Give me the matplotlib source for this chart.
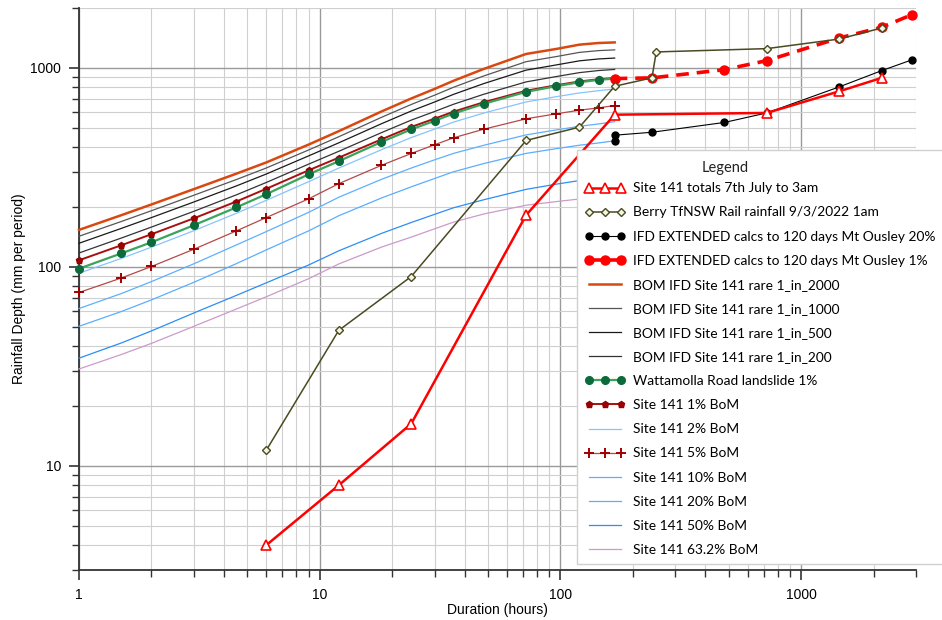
import matplotlib
matplotlib.use("Agg")
import matplotlib.pyplot as plt
from matplotlib.ticker import FixedLocator, FixedFormatter, LogLocator, NullFormatter

# standard BoM durations (hours)
dur = [1, 1.5, 2, 3, 4.5, 6, 9, 12, 18, 24, 30, 36, 48, 72, 96, 120, 144, 168]

# BoM IFD curves, Site 141 (mm)
rare_2000 = [153.5, 182, 206, 246, 294, 335, 412, 481, 603, 702, 784, 862, 988, 1175, 1245, 1309, 1334, 1343]
rare_1000 = [142.6, 169.2, 191.6, 229.2, 274.7, 314.2, 387.1, 451, 563.6, 655, 729.4, 799.7, 911, 1074.7, 1139.9, 1197, 1221.6, 1232]
rare_500 = [131.5, 156.2, 177, 212, 255.1, 293, 361.5, 420.3, 523.4, 607.3, 674, 736.6, 833.9, 974.5, 1034.9, 1085.4, 1109.2, 1120.6]
rare_200 = [117.5, 139.7, 158.6, 190.3, 230.1, 265.7, 328.6, 381, 472.1, 546.6, 603.8, 657, 737.1, 850.6, 904.7, 947, 969.9, 982.4]
wattamolla = [98, 117, 133, 162, 199, 232, 292, 340, 424, 491, 542, 590, 660, 758, 809, 847, 871, 884]
aep_1 = [108, 128.5, 146, 175.5, 213, 247, 306, 354, 437, 505, 556, 603, 672, 768, 818, 855, 877, 890]
aep_2 = [93, 110.4, 125.7, 152.1, 185.9, 216.2, 268.2, 313.9, 387.5, 446.6, 492.7, 534.3, 593.2, 674.4, 716.8, 748.5, 768.3, 783.5]
aep_5 = [74.4, 88, 100.5, 122.7, 151.6, 177, 220, 262, 323.6, 371.5, 411, 445.6, 492, 555, 588, 613, 630, 647]
aep_10 = [61.8, 73.5, 84.4, 103.7, 128.9, 150.5, 188.1, 224, 275.1, 313.9, 345.2, 372.1, 408.4, 460.7, 488, 508.8, 522.9, 537]
aep_20 = [50.3, 59.7, 68.3, 83.7, 103.8, 121.8, 151.8, 180.8, 221.7, 252.6, 278.2, 300.8, 330.6, 371.9, 392.8, 408.9, 419.6, 430.3]
aep_50 = [34.8, 41.5, 47.7, 58.7, 71.9, 83.2, 102.3, 120.5, 147.2, 167.2, 183.7, 198.3, 217.5, 245.3, 260.5, 271.6, 279.1, 286.6]
aep_632 = [30.7, 36.3, 41.3, 50.3, 61.4, 70.8, 87.3, 103.5, 125.6, 141.2, 155.4, 168, 184.5, 204.2, 212.9, 219.5, 223.7, 227.7]

# observed totals
site141_x = [6, 12, 24, 72, 168, 720, 1440, 2160]
site141_y = [4, 8, 16.3, 182, 582, 594, 763, 891]
berry_x = [6, 12, 24, 72, 120, 168, 240, 250, 720, 1440, 2160]
berry_y = [12, 48, 89.5, 432, 504, 809, 891, 1203, 1250, 1397, 1587]

# extended IFD to 120 days
ext20_x = [168, 168, 240, 480, 720, 1440, 2160, 2880]
ext20_y = [428, 459, 475, 532, 594, 803, 969, 1097]
ext1_x = [168, 240, 480, 720, 1440, 2160, 2880]
ext1_y = [884, 891, 980, 1088, 1414, 1600, 1850]

fig = plt.figure(figsize=(9.42, 6.2), dpi=100)
ax = fig.add_axes([79 / 942, 1 - 570 / 620, (916 - 79) / 942, (570 - 8) / 620])

series = [
    (site141_x, site141_y, "Site 141 totals 7th July to 3am",
     dict(color="#ff0000", lw=1.8, marker="^", ms=7, mfc="white", mec="#ff0000", mew=1.2)),
    (berry_x, berry_y, "Berry TfNSW Rail rainfall 9/3/2022 1am",
     dict(color="#4a4a22", lw=1.1, marker="D", ms=4.5, mfc="#f4f4e0", mec="#4a4a22", mew=1)),
    (ext20_x, ext20_y, "IFD EXTENDED calcs to 120 days Mt Ousley 20%",
     dict(color="black", lw=0.8, marker="o", ms=5, mfc="black", mec="black")),
    (ext1_x, ext1_y, "IFD EXTENDED calcs to 120 days Mt Ousley 1%",
     dict(color="#ff0000", lw=2.6, ls=(0, (3.5, 2.2)), marker="o", ms=6.5, mfc="#ff0000", mec="#ff0000")),
    (dur, rare_2000, "BOM IFD Site 141 rare 1_in_2000", dict(color="#d9480f", lw=1.8)),
    (dur, rare_1000, "BOM IFD Site 141 rare 1_in_1000", dict(color="#555555", lw=0.9)),
    (dur, rare_500, "BOM IFD Site 141 rare 1_in_500", dict(color="#1a1a1a", lw=0.9)),
    (dur, rare_200, "BOM IFD Site 141 rare 1_in_200", dict(color="#333333", lw=0.9)),
    (dur, wattamolla, "Wattamolla Road landslide 1%",
     dict(color="#3aa35c", lw=1.6, marker="o", ms=5.5, mfc="#0b6b3a", mec="#0b6b3a")),
    (dur, aep_1, "Site 141 1% BoM",
     dict(color="#a81010", lw=1.4, marker="p", ms=4.5, mfc="#990000", mec="#990000")),
    (dur, aep_2, "Site 141 2% BoM", dict(color="#86c3ff", lw=0.9)),
    (dur, aep_5, "Site 141 5% BoM",
     dict(color="#b54848", lw=0.9, marker="+", ms=7.5, mec="#a00000", mew=1.4)),
    (dur, aep_10, "Site 141 10% BoM", dict(color="#5cb0ff", lw=0.9)),
    (dur, aep_20, "Site 141 20% BoM", dict(color="#5aaeff", lw=0.9)),
    (dur, aep_50, "Site 141 50% BoM", dict(color="#2b8ef5", lw=0.9)),
    (dur, aep_632, "Site 141 63.2% BoM", dict(color="#cc9acb", lw=0.9)),
]

for i, (x, y, name, style) in enumerate(series):
    ax.plot(x, y, label=name, zorder=30 - i, clip_on=False, **style)

ax.set_xscale("log")
ax.set_yscale("log")
ax.set_xlim(1, 3000)
ax.set_ylim(3, 2000)

ax.xaxis.set_major_locator(FixedLocator([1, 10, 100, 1000]))
ax.xaxis.set_major_formatter(FixedFormatter(["1", "10", "100", "1000"]))
ax.xaxis.set_minor_locator(LogLocator(base=10, subs=range(2, 10)))
ax.xaxis.set_minor_formatter(NullFormatter())
ax.yaxis.set_major_locator(FixedLocator([10, 100, 1000]))
ax.yaxis.set_major_formatter(FixedFormatter(["10", "100", "1000"]))
ax.yaxis.set_minor_locator(LogLocator(base=10, subs=range(2, 10)))
ax.yaxis.set_minor_formatter(NullFormatter())

ax.grid(True, which="major", color="#9a9a9a", lw=1.0)
ax.grid(True, which="minor", color="#cfcfcf", lw=0.8)
ax.set_axisbelow(True)

for s in ["top", "right"]:
    ax.spines[s].set_visible(False)
for s in ["left", "bottom"]:
    ax.spines[s].set_color("#333333")
    ax.spines[s].set_linewidth(1.3)

ax.tick_params(which="major", direction="out", length=7, width=1.2, color="#333333",
               labelsize=10, pad=6)
ax.tick_params(which="minor", direction="out", length=5, width=1.0, color="#333333")
for lab in ax.get_xticklabels() + ax.get_yticklabels():
    lab.set_fontfamily("Liberation Sans")

ax.set_xlabel("Duration (hours)", fontsize=10, family="Liberation Sans", labelpad=1)
ax.set_ylabel("Rainfall Depth (mm per period)", fontsize=10, family="Liberation Sans", labelpad=3)

# legend box with a blank title line; the word "Legend" sits over it like in the original
leg = ax.legend(loc="upper left", bbox_to_anchor=(577 / 942, 1 - 150 / 620),
                bbox_transform=fig.transFigure, borderaxespad=0, numpoints=3,
                title=" ", prop={"family": "Lato", "size": 9.9},
                title_fontproperties={"family": "Lato", "size": 9.9},
                frameon=True, fancybox=False, framealpha=1, edgecolor="#d0d0d0",
                handlelength=2.9, handletextpad=0.6, labelspacing=0.88, borderpad=0.6)
leg.set_zorder(50)
fig.text(725 / 942, 1 - 168 / 620, "Legend", ha="center", va="center",
         family="Lato", fontsize=10.5, color="#222222")

fig.savefig("out.png", dpi=100)
